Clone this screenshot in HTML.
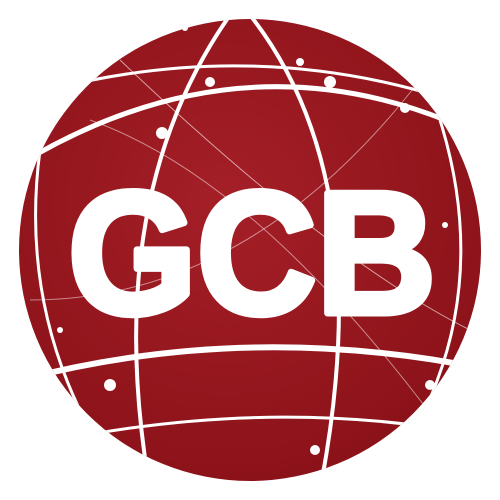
<!DOCTYPE html>
<html><head><meta charset="utf-8"><style>
html,body{margin:0;padding:0;background:#fff;width:500px;height:500px;overflow:hidden}
</style></head><body>
<svg width="500" height="500" viewBox="0 0 500 500">
<defs>
<radialGradient id="g" cx="45%" cy="40%" r="65%">
<stop offset="0" stop-color="#a51f27"/><stop offset="1" stop-color="#8a1118"/>
</radialGradient>
<clipPath id="c"><circle cx="250" cy="250" r="231"/></clipPath>
</defs>
<circle cx="250" cy="250" r="231" fill="url(#g)"/>
<g clip-path="url(#c)" fill="none" stroke="#fff">
<path d="M10 170 Q250 20 490 140" stroke-width="5"/>
<path d="M30 95 Q260 30 480 110" stroke-width="3"/>
<path d="M20 380 Q250 320 490 370" stroke-width="6"/>
<path d="M60 440 Q260 400 450 430" stroke-width="3"/>
<path d="M230 15 Q100 200 150 490" stroke-width="4"/>
<path d="M250 15 Q380 180 320 490" stroke-width="4"/>
<path d="M40 150 Q20 300 90 430" stroke-width="3"/>
<path d="M440 120 Q490 280 420 420" stroke-width="3"/>
<path d="M120 60 Q330 260 470 330" stroke-width="1" stroke-opacity="0.6"/>
<path d="M30 300 Q250 300 420 80" stroke-width="1" stroke-opacity="0.5"/>
<path d="M90 120 Q260 180 450 440" stroke-width="1" stroke-opacity="0.5"/>
</g>
<g fill="#fff">
<circle cx="162" cy="133" r="6"/><circle cx="210" cy="82" r="5"/><circle cx="330" cy="82" r="6"/>
<circle cx="300" cy="62" r="4"/><circle cx="405" cy="108" r="5"/><circle cx="110" cy="385" r="6"/>
<circle cx="430" cy="385" r="5"/><circle cx="315" cy="450" r="5"/><circle cx="185" cy="28" r="3"/>
<circle cx="60" cy="330" r="3"/><circle cx="445" cy="225" r="3"/>
</g>
<text x="252" y="313" text-anchor="middle" font-family="Liberation Sans, Arial, sans-serif" font-weight="bold" font-size="174" fill="#fff" stroke="#fff" stroke-width="7" stroke-linejoin="round" textLength="368" lengthAdjust="spacingAndGlyphs">GCB</text>
</svg>
</body></html>
